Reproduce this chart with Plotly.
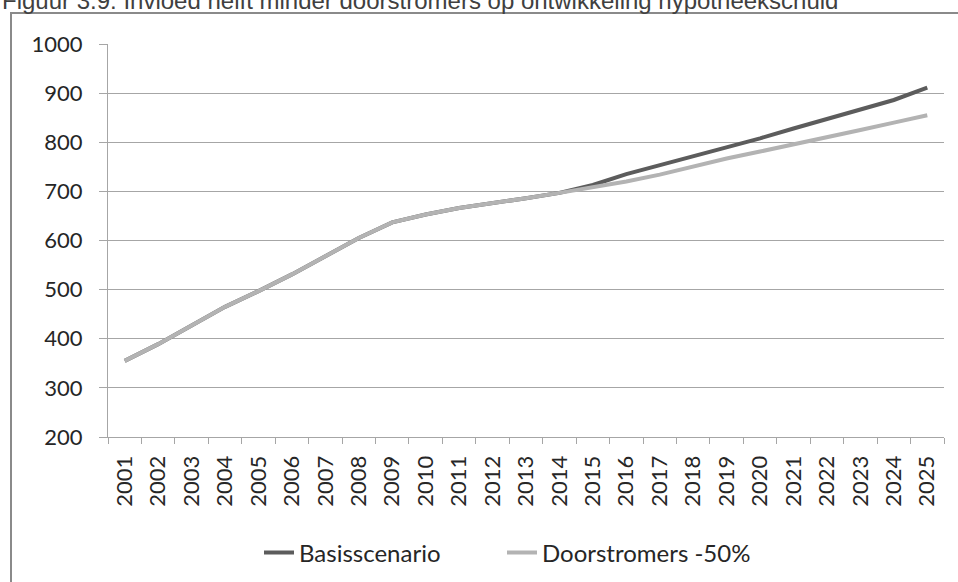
import plotly.graph_objects as go

# Hypotheekschuld (mld euro), 2001-2025
years = [str(y) for y in range(2001, 2026)]
basisscenario = [355, 389, 427, 465, 497, 531, 568, 605, 637, 653, 666, 675, 686, 697,
                 713, 735, 753, 771, 790, 808, 828, 848, 866, 886, 911]
doorstromers_50 = [355, 389, 427, 465, 497, 531, 568, 605, 637, 653, 666, 675, 686, 697,
                   708, 720, 734, 751, 767, 781, 795, 810, 825, 840, 855]
y_ticks = [200, 300, 400, 500, 600, 700, 800, 900, 1000]

W, H = 958, 582
L, R, T, B = 108, 14, 44, 145
pw, ph = W - L - R, H - T - B

FONT = "Lato, Calibri, sans-serif"
GRID = "#a6a6a6"

fig = go.Figure()
fig.add_trace(go.Scatter(x=years, y=basisscenario, name="Basisscenario",
                         mode="lines", line=dict(color="#5c5c5c", width=4),
                         legend="legend"))
fig.add_trace(go.Scatter(x=years, y=doorstromers_50, name="Doorstromers -50%",
                         mode="lines", line=dict(color="#b3b3b3", width=4),
                         legend="legend2"))

legend_y = -(553 - (T + ph)) / ph
legend_common = dict(orientation="h", xanchor="left", y=legend_y, yanchor="middle",
                     font=dict(size=24), bgcolor="rgba(0,0,0,0)")

fig.update_layout(
    width=W, height=H,
    margin=dict(l=L, r=R, t=T, b=B, autoexpand=False),
    paper_bgcolor="white", plot_bgcolor="white",
    font=dict(family=FONT, size=22, color="#262626"),
    showlegend=True,
    legend=dict(x=(259 - L) / pw, **legend_common),
    legend2=dict(x=(502 - L) / pw, **legend_common),
    xaxis=dict(type="category", tickangle=-90, showgrid=False, automargin=False,
               showline=True, linecolor=GRID, linewidth=1,
               ticks="outside", tickson="boundaries", ticklen=6, tickcolor=GRID,
               tickfont=dict(size=22), ticklabelstandoff=9, range=[-0.5, 24.5]),
    yaxis=dict(range=[200, 1000], tickvals=y_ticks, showgrid=True, automargin=False,
               gridcolor=GRID, gridwidth=1, showline=True, linecolor=GRID,
               ticks="outside", ticklen=8, tickcolor=GRID, zeroline=False,
               tickfont=dict(size=22), ticklabelstandoff=12),
)

# Chart frame (partly outside the page)
fig.add_shape(type="rect", xref="paper", yref="paper",
              x0=(11 - L) / pw, x1=1.2, y0=-0.6, y1=1 + (T - 13) / ph,
              line=dict(color="#8a8a8a", width=2), layer="below")

fig.add_annotation(text="Figuur 3.9: Invloed helft minder doorstromers op ontwikkeling hypotheekschuld",
                   xref="paper", yref="paper", x=0, xshift=-L, xanchor="left",
                   y=1, yshift=T, yanchor="middle", showarrow=False,
                   font=dict(family="Liberation Sans, Arial, sans-serif", size=24, color="#404040"))

fig.write_html("out.html")
